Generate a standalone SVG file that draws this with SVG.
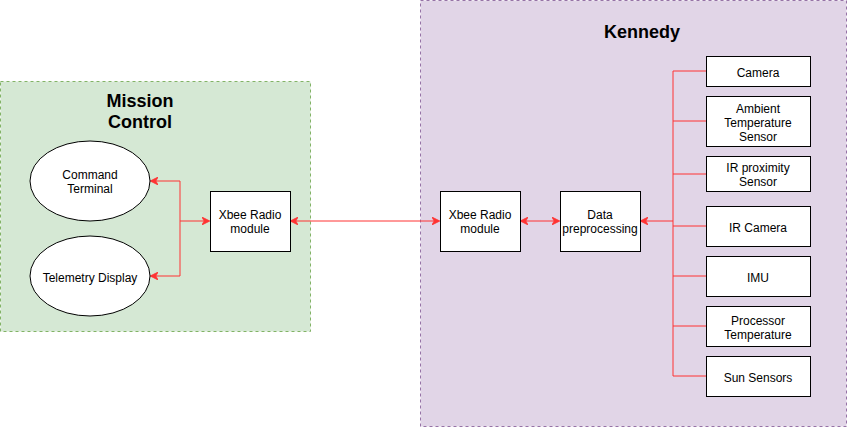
<svg xmlns="http://www.w3.org/2000/svg" width="847" height="427" viewBox="0 0 847 427">
<defs>
<marker id="arr" viewBox="0 0 10 10" refX="9" refY="5" markerWidth="8" markerHeight="8" markerUnits="userSpaceOnUse" orient="auto-start-reverse">
<path d="M0,0 L10,5 L0,10 L3,5 Z" fill="#ff3333" stroke="#ff3333" stroke-width="1"/>
</marker>
<style>
text{font-family:"Liberation Sans",Arial,sans-serif;font-size:12px;fill:#000;text-anchor:middle}
.t{font-weight:bold;font-size:18px}
.box{fill:#fff;stroke:#000;stroke-width:1}
.c{fill:none;stroke:#ff3333;stroke-width:1}
</style>
</defs>
<rect width="847" height="427" fill="#fff"/>
<g id="mission-control">
<rect x="0.5" y="81.5" width="310" height="250" fill="#d5e8d4" stroke="#82b366" stroke-dasharray="3,3"/>
<text class="t" x="140" y="107">Mission</text>
<text class="t" x="140" y="128">Control</text>
</g>
<g id="kennedy">
<rect x="420.5" y="0.5" width="426" height="426" fill="#e1d5e7" stroke="#9673a6" stroke-dasharray="3,3"/>
<text class="t" x="642" y="38">Kennedy</text>
</g>
<g id="connectors">
<path class="c" d="M180,221 L180,181 L151,181" marker-end="url(#arr)"/>
<path class="c" d="M180,221 L180,276 L151,276" marker-end="url(#arr)"/>
<path class="c" d="M180,221 L209,221" marker-end="url(#arr)"/>
<path class="c" d="M291,221 L439,221" marker-start="url(#arr)" marker-end="url(#arr)"/>
<path class="c" d="M521,221 L559,221" marker-start="url(#arr)" marker-end="url(#arr)"/>
<path class="c" d="M673,221 L641,221" marker-end="url(#arr)"/>
<path class="c" d="M673,71 L673,376 M673,71 L706,71 M673,121 L706,121 M673,174 L706,174 M673,226 L706,226 M673,276 L706,276 M673,326 L706,326 M673,376 L706,376"/>
</g>
<g id="command-terminal">
<ellipse class="box" cx="90" cy="181" rx="60" ry="40"/>
<text x="90" y="179">Command</text>
<text x="90" y="193">Terminal</text>
</g>
<g id="telemetry-display">
<ellipse class="box" cx="90" cy="276" rx="60" ry="40"/>
<text x="90" y="282">Telemetry Display</text>
</g>
<g id="xbee-mc">
<rect class="box" x="210.5" y="191.5" width="80" height="60"/>
<text x="250" y="219">Xbee Radio</text>
<text x="250" y="233">module</text>
</g>
<g id="xbee-k">
<rect class="box" x="440.5" y="191.5" width="80" height="60"/>
<text x="480" y="219">Xbee Radio</text>
<text x="480" y="233">module</text>
</g>
<g id="data-preprocessing">
<rect class="box" x="560.5" y="191.5" width="80" height="60"/>
<text x="600" y="219">Data</text>
<text x="600" y="233">preprocessing</text>
</g>
<g id="camera">
<rect class="box" x="706.5" y="56.5" width="104" height="30"/>
<text x="758" y="77">Camera</text>
</g>
<g id="ambient-temperature-sensor">
<rect class="box" x="706.5" y="96.5" width="104" height="50"/>
<text x="758" y="113">Ambient</text>
<text x="758" y="127">Temperature</text>
<text x="758" y="141">Sensor</text>
</g>
<g id="ir-proximity-sensor">
<rect class="box" x="706.5" y="156.5" width="104" height="35"/>
<text x="758" y="172">IR proximity</text>
<text x="758" y="186">Sensor</text>
</g>
<g id="ir-camera">
<rect class="box" x="706.5" y="206.5" width="104" height="40"/>
<text x="758" y="232">IR Camera</text>
</g>
<g id="imu">
<rect class="box" x="706.5" y="256.5" width="104" height="40"/>
<text x="758" y="282">IMU</text>
</g>
<g id="processor-temperature">
<rect class="box" x="706.5" y="306.5" width="104" height="40"/>
<text x="758" y="325">Processor</text>
<text x="758" y="339">Temperature</text>
</g>
<g id="sun-sensors">
<rect class="box" x="706.5" y="356.5" width="104" height="40"/>
<text x="758" y="382">Sun Sensors</text>
</g>
</svg>
